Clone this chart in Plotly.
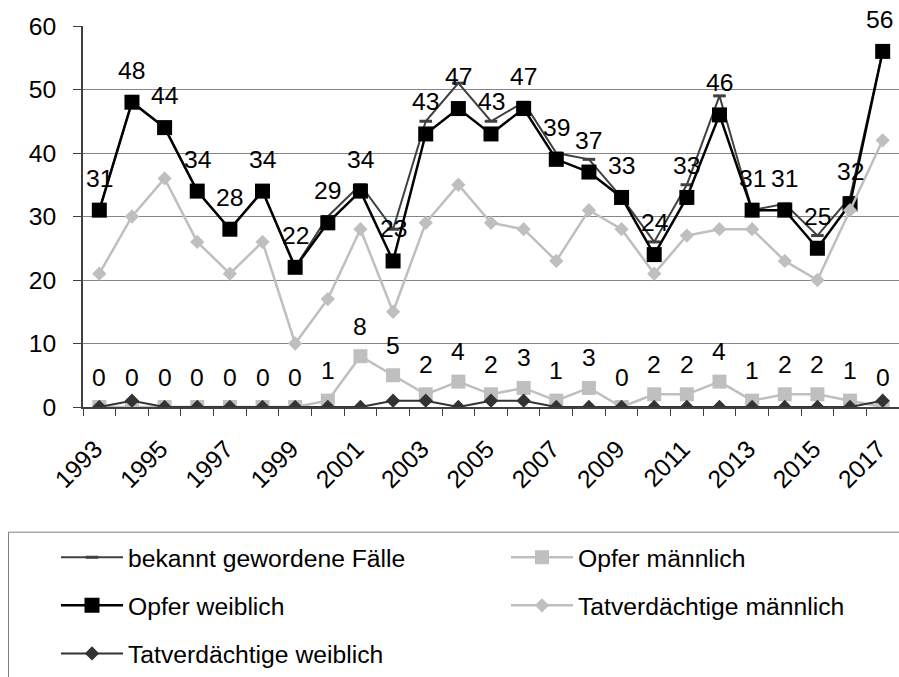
import plotly.graph_objects as go

# Data
years = list(range(1993, 2018))
faelle = [31, 48, 44, 34, 28, 34, 22, 30, 35, 28, 45, 51, 45, 48, 40, 39, 33, 26, 35, 49, 31, 32, 27, 33, 56]
opfer_m = [0, 0, 0, 0, 0, 0, 0, 1, 8, 5, 2, 4, 2, 3, 1, 3, 0, 2, 2, 4, 1, 2, 2, 1, 0]
opfer_w = [31, 48, 44, 34, 28, 34, 22, 29, 34, 23, 43, 47, 43, 47, 39, 37, 33, 24, 33, 46, 31, 31, 25, 32, 56]
tv_m = [21, 30, 36, 26, 21, 26, 10, 17, 28, 15, 29, 35, 29, 28, 23, 31, 28, 21, 27, 28, 28, 23, 20, 31, 42]
tv_w = [0, 1, 0, 0, 0, 0, 0, 0, 0, 1, 1, 0, 1, 1, 0, 0, 0, 0, 0, 0, 0, 0, 0, 0, 1]
tick_years = years[::2]

FONT = "Arial, Liberation Sans, sans-serif"
FS = 24.7
W, H = 899, 677
L, R, T = 83, 0, 26
B = H - 411
plot_w = W - L - R
plot_h = H - T - B


def px_x(p):
    # page pixel -> paper coordinate
    return (p - L) / plot_w


def px_y(p):
    return (H - B - p) / plot_h


fig = go.Figure()

series = [
    dict(name="bekannt gewordene Fälle", y=faelle, color="#404040", width=2,
         symbol="line-ew", size=9, mline=3, legend="legend"),
    dict(name="Opfer männlich", y=opfer_m, color="#BFBFBF", width=2.5,
         symbol="square", size=14, mline=0, legend="legend2"),
    dict(name="Opfer weiblich", y=opfer_w, color="#000000", width=2.5,
         symbol="square", size=15, mline=0, legend="legend"),
    dict(name="Tatverdächtige männlich", y=tv_m, color="#BFBFBF", width=2.5,
         symbol="diamond", size=11, mline=0, legend="legend2"),
    dict(name="Tatverdächtige weiblich", y=tv_w, color="#333333", width=2,
         symbol="diamond", size=11, mline=0, legend="legend"),
]

for i, s in enumerate(series):
    fig.add_trace(go.Scatter(
        x=years, y=s["y"], name=s["name"], mode="lines+markers",
        line=dict(color=s["color"], width=s["width"]),
        marker=dict(symbol=s["symbol"], size=s["size"], color=s["color"],
                    line=dict(color=s["color"], width=s["mline"])),
        legend=s["legend"], legendgroup=str(i),
    ))

# data labels
for x, v in zip(years, opfer_w):
    fig.add_annotation(x=x, y=v, text=str(v), showarrow=False, yshift=32,
                       xshift=-3 if x == years[-1] else 0,
                       font=dict(family=FONT, size=FS, color="#000000"))
for x, v in zip(years, opfer_m):
    fig.add_annotation(x=x, y=v, text=str(v), showarrow=False, yshift=30,
                       font=dict(family=FONT, size=FS, color="#000000"))

# legend frame
fig.add_shape(type="rect", xref="paper", yref="paper",
              x0=px_x(8.5), x1=px_x(930), y0=px_y(537.5), y1=px_y(720),
              line=dict(color="#808080", width=1), fillcolor="rgba(0,0,0,0)")

leg_common = dict(
    orientation="v", yanchor="top", xanchor="left",
    font=dict(family=FONT, size=FS, color="#000000"),
    bgcolor="rgba(0,0,0,0)", borderwidth=0,
    traceorder="grouped", tracegroupgap=13, itemwidth=62,
)

fig.update_layout(
    width=W, height=H,
    margin=dict(l=L, r=R, t=T, b=B),
    paper_bgcolor="white", plot_bgcolor="white",
    font=dict(family=FONT, size=FS, color="#000000"),
    showlegend=True,
    legend=dict(x=px_x(56), y=px_y(540), **leg_common),
    legend2=dict(x=px_x(506), y=px_y(540), **leg_common),
    xaxis=dict(
        range=[1992.5, 2017.5], automargin=False,
        tickmode="array", tickvals=tick_years, ticktext=[str(y) for y in tick_years],
        tickangle=-45, ticks="", ticklabelstandoff=16, ticklabelshift=-4,
        tickfont=dict(family=FONT, size=FS, color="#000000"),
        showgrid=False, zeroline=False,
        showline=True, linecolor="#404040", linewidth=1.5,
        minor=dict(ticks="outside", ticklen=7, tickcolor="#404040", tickwidth=1,
                   tick0=1992.5, dtick=1, showgrid=False),
    ),
    yaxis=dict(
        range=[0, 60], tickmode="linear", tick0=0, dtick=10, automargin=False,
        ticks="outside", ticklen=8, tickcolor="#404040", ticklabelstandoff=12,
        tickfont=dict(family=FONT, size=FS, color="#000000"),
        showgrid=True, gridcolor="#868686", gridwidth=1,
        zeroline=False, showline=True, linecolor="#404040", linewidth=1.5,
    ),
)

# drop the default body margin so the figure fills the window
fig.write_html("out.html", config={"displayModeBar": False},
               post_script="document.body.style.margin = '0';")
